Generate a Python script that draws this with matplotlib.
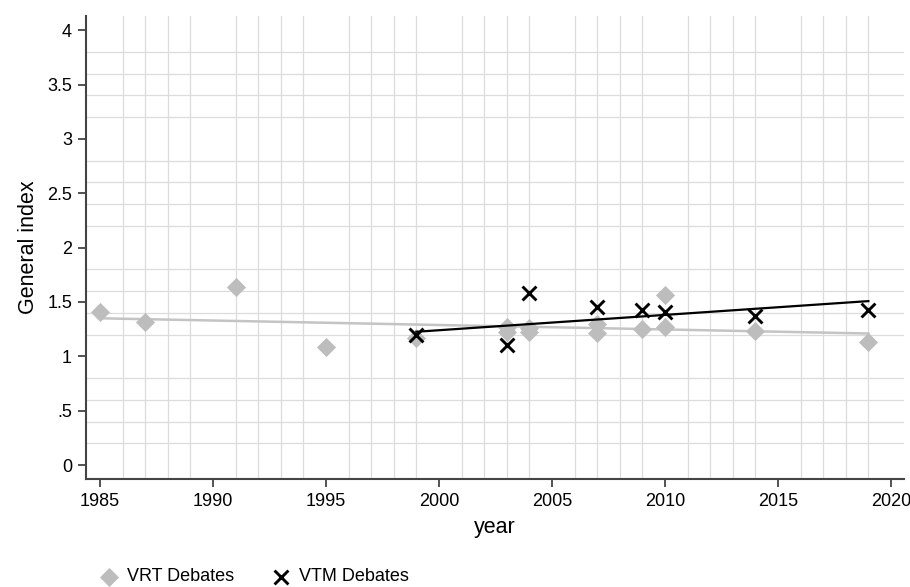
import matplotlib
matplotlib.use("Agg")
import matplotlib.pyplot as plt
import numpy as np

plt.rcParams["font.family"] = ["Liberation Sans", "DejaVu Sans"]

# VRT debates (grey diamonds)
vrt_year = [1985, 1987, 1991, 1995, 1999, 2003, 2003, 2004, 2004, 2007, 2007,
            2009, 2010, 2010, 2014, 2019]
vrt_index = [1.41, 1.32, 1.635, 1.085, 1.17, 1.27, 1.22, 1.26, 1.22, 1.30, 1.21,
             1.25, 1.56, 1.27, 1.235, 1.135]

# VTM debates (black crosses)
vtm_year = [1999, 2003, 2004, 2007, 2009, 2010, 2014, 2019]
vtm_index = [1.195, 1.10, 1.58, 1.455, 1.43, 1.405, 1.37, 1.43]

# fitted lines (start / end of each fit)
vrt_fit_year = [1985, 2019]
vrt_fit = [1.35, 1.21]
vtm_fit_year = [1999, 2019]
vtm_fit = [1.226, 1.508]

x_ticks = [1985, 1990, 1995, 2000, 2005, 2010, 2015, 2020]
y_ticks = [0, 0.5, 1, 1.5, 2, 2.5, 3, 3.5, 4]
y_labels = ["0", ".5", "1", "1.5", "2", "2.5", "3", "3.5", "4"]

grey = "#bdbdbd"
spine_col = "#444444"

fig = plt.figure(figsize=(9.1, 5.87), dpi=100)
ax = fig.add_axes([0.0945, 0.1845, 0.899, 0.788])

ax.plot(vrt_fit_year, vrt_fit, color="#c4c4c4", lw=1.8, zorder=2)
ax.scatter(vrt_year, vrt_index, marker="D", s=95, color=grey, linewidths=0,
           zorder=3, label="VRT Debates")
ax.plot(vtm_fit_year, vtm_fit, color="black", lw=1.6, zorder=4)
ax.scatter(vtm_year, vtm_index, marker="x", s=100, color="black", linewidths=2.1,
           zorder=5, label="VTM Debates")

ax.set_xlim(1984.38, 2020.58)
ax.set_ylim(-0.126, 4.13)

ax.set_xticks(x_ticks)
ax.set_yticks(y_ticks)
ax.set_yticklabels(y_labels)
ax.set_xticks(np.arange(1985, 2021, 1), minor=True)
ax.set_yticks(np.arange(0, 4.01, 0.2), minor=True)
ax.tick_params(which="minor", length=0)
ax.tick_params(which="major", length=6, width=1.3, color=spine_col,
               labelsize=13, pad=4)
ax.grid(which="minor", color="#dcdcdc", lw=0.9)
ax.set_axisbelow(True)

for side in ["top", "right"]:
    ax.spines[side].set_visible(False)
for side in ["left", "bottom"]:
    ax.spines[side].set_color(spine_col)
    ax.spines[side].set_linewidth(1.5)

ax.set_xlabel("year", fontsize=15.5, labelpad=5)
ax.set_ylabel("General index", fontsize=15.5, labelpad=6)

fig.legend(loc="lower left", bbox_to_anchor=(0.09, -0.025), ncol=2,
           frameon=False, fontsize=13, handletextpad=0.4,
           columnspacing=2.0, handlelength=1.2)

fig.savefig("out.png", dpi=100)
